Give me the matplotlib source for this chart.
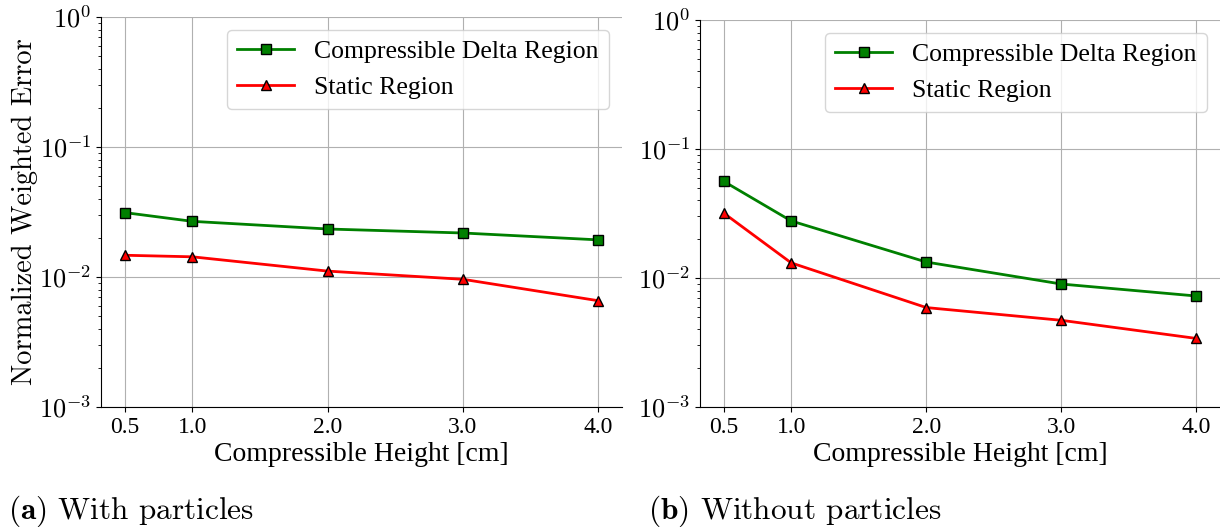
import numpy as np
import matplotlib
matplotlib.use('Agg')
import matplotlib.pyplot as plt
from matplotlib.ticker import FuncFormatter

plt.rcParams['mathtext.fontset'] = 'cm'
plt.rcParams['axes.unicode_minus'] = False

# data
heights = [0.5, 1.0, 2.0, 3.0, 4.0]
tick_labels = ['0.5', '1.0', '2.0', '3.0', '4.0']
delta_with = [0.0313, 0.0268, 0.0234, 0.0218, 0.0193]
static_with = [0.0147, 0.0143, 0.0111, 0.0096, 0.00657]
delta_without = [0.0562, 0.0277, 0.0133, 0.00898, 0.00725]
static_without = [0.0319, 0.0131, 0.00590, 0.00470, 0.00340]
captions = [r'$\mathbf{(a)}$ With particles', r'$\mathbf{(b)}$ Without particles']

serif = 'Liberation Serif'

def log_fmt(v, pos):
    return r'$10^{%d}$' % int(round(np.log10(v)))

fig = plt.figure(figsize=(12.2, 5.27), dpi=100)
ax1 = fig.add_axes([101/1220, 120/527, 521/1220, 390/527])
ax2 = fig.add_axes([700/1220, 120/527, 520/1220, 387/527])

for ax, d, s in [(ax1, delta_with, static_with), (ax2, delta_without, static_without)]:
    ax.plot(heights, d, '-s', color='green', lw=2, ms=7, mec='black', mew=1,
            label='Compressible Delta Region')
    ax.plot(heights, s, '-^', color='red', lw=2, ms=6.5, mec='black', mew=1,
            label='Static Region')
    ax.set_yscale('log')
    ax.set_ylim(1e-3, 1e0)
    ax.yaxis.set_major_formatter(FuncFormatter(log_fmt))
    ax.set_xticks(heights)
    ax.set_xticklabels(tick_labels, fontfamily=serif, fontsize=17)
    ax.tick_params(axis='y', labelsize=19)
    ax.grid(True, which='major', color='#b0b0b0', lw=0.8)
    ax.set_axisbelow(True)
    ax.spines['top'].set_visible(False)
    ax.spines['right'].set_visible(False)
    ax.set_xlabel('Compressible Height [cm]', fontfamily=serif, fontsize=20, labelpad=3)
    leg = ax.legend(loc='upper right', prop={'family': serif, 'size': 18.5},
                    handlelength=2.2)

ax1.set_ylabel('Normalized Weighted Error', fontfamily='cmr10', fontsize=20.5, labelpad=1)

fig.text(8/1220, 8/527, captions[0], fontsize=22.5, fontfamily='cmr10')
fig.text(648/1220, 8/527, captions[1], fontsize=22.5, fontfamily='cmr10')

fig.savefig('out.png', dpi=100)
